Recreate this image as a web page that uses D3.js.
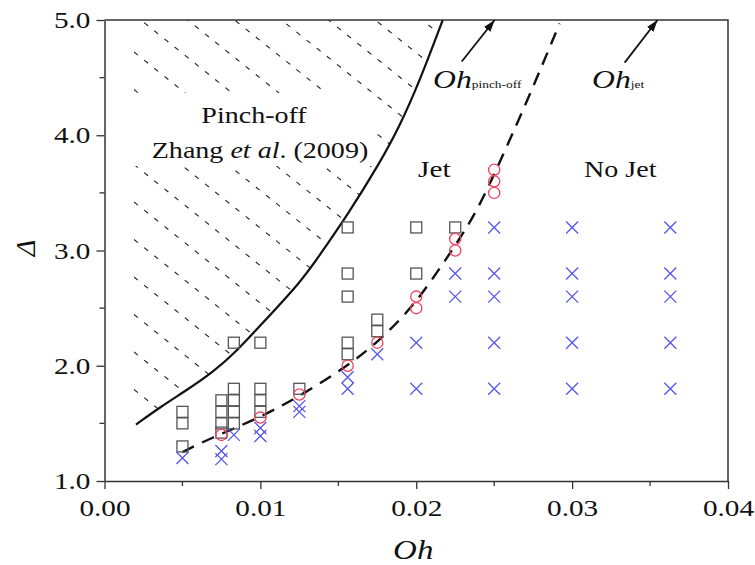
<!DOCTYPE html>
<html>
<head>
<meta charset="utf-8">
<script src="https://cdn.jsdelivr.net/npm/d3@7"></script>
<style>
body { margin: 0; background: #fff; }
text { font-family: "Liberation Serif", "Times New Roman", serif; fill: #111; }
</style>
</head>
<body>
<div id="chart"></div>
<script>
// axis ticks
const ohTicks = [0, 0.01, 0.02, 0.03, 0.04]
const ohMinor = [0.005, 0.015, 0.025, 0.035]
const deltaTicks = [1, 2, 3, 4, 5]
const deltaMinor = [1.5, 2.5, 3.5, 4.5]

// pinch-off boundary, Zhang et al. (2009)  [Oh, Delta]
const pinchOff = [
  [0.00202, 1.49], [0.00356, 1.64], [0.00529, 1.79], [0.00702, 1.95],
  [0.00849, 2.13], [0.00965, 2.30], [0.0127, 2.74], [0.0140, 3.00],
  [0.01555, 3.30], [0.01766, 3.76], [0.01894, 4.08], [0.02022, 4.47],
  [0.0217, 5.0]
]

// Oh_jet boundary
const ohJet = [
  [0.0050, 1.25], [0.0066, 1.36], [0.0100, 1.55], [0.0127, 1.75],
  [0.0156, 2.0], [0.0175, 2.2], [0.0198, 2.51], [0.0219, 2.92],
  [0.0238, 3.31], [0.0252, 3.72], [0.0271, 4.29], [0.0292, 4.97]
]

// pinch-off cases (squares)
const squares = [
  [0.005, 1.6], [0.005, 1.5], [0.005, 1.3],
  [0.0075, 1.7], [0.0075, 1.6], [0.0075, 1.5], [0.0075, 1.42],
  [0.0083, 2.2], [0.0083, 1.8], [0.0083, 1.7], [0.0083, 1.6], [0.0083, 1.5],
  [0.01, 2.2], [0.01, 1.8], [0.01, 1.7], [0.01, 1.6],
  [0.0125, 1.8],
  [0.0156, 3.2], [0.0156, 2.8], [0.0156, 2.6], [0.0156, 2.2], [0.0156, 2.1],
  [0.0175, 2.4], [0.0175, 2.3],
  [0.02, 3.2], [0.02, 2.8],
  [0.0225, 3.2]
]

// jet cases (circles)
const circles = [
  [0.0075, 1.4], [0.01, 1.55], [0.0125, 1.75], [0.0156, 2.0], [0.0175, 2.2],
  [0.02, 2.6], [0.02, 2.5], [0.0225, 3.1], [0.0225, 3.0],
  [0.025, 3.7], [0.025, 3.6], [0.025, 3.5]
]

// no jet cases (crosses)
const crosses = [
  [0.005, 1.2], [0.0075, 1.26], [0.0075, 1.19], [0.0083, 1.4],
  [0.01, 1.46], [0.01, 1.39], [0.0125, 1.65], [0.0125, 1.6],
  [0.0156, 1.9], [0.0156, 1.8], [0.0175, 2.1], [0.02, 2.2], [0.02, 1.8],
  [0.0225, 2.8], [0.0225, 2.6],
  [0.025, 3.2], [0.025, 2.8], [0.025, 2.6], [0.025, 2.2], [0.025, 1.8],
  [0.03, 3.2], [0.03, 2.8], [0.03, 2.6], [0.03, 2.2], [0.03, 1.8],
  [0.0363, 3.2], [0.0363, 2.8], [0.0363, 2.6], [0.0363, 2.2], [0.0363, 1.8]
]

const W = 755, H = 565
const margin = {top: 20, right: 27, bottom: 84, left: 104.5}
const SX = 1.22 // text in the source figure is stretched sideways

let svg = d3.select('#chart').append('svg')
  .attr('width', W)
  .attr('height', H)

let x = d3.scaleLinear().domain([0, 0.04]).range([margin.left, W - margin.right])
let y = d3.scaleLinear().domain([1, 5]).range([H - margin.bottom, margin.top])

let line = d3.line()
  .x(d => x(d[0]))
  .y(d => y(d[1]))
  .curve(d3.curveBasis)

// hatched pinch-off region
let x0 = x(pinchOff[0][0]) - 2
svg.append('clipPath').attr('id', 'hatchClip')
  .append('path')
  .attr('d', line(pinchOff) + `L${x0},${y(5)}L${x0},${y(pinchOff[0][1])}Z`)

let hatch = svg.append('g').attr('clip-path', 'url(#hatchClip)')
for (let k = -14; k <= 11; k++) {
  let y0 = 52 + 37.5 * k
  hatch.append('line')
    .attr('x1', x0).attr('y1', y0)
    .attr('x2', x0 + 700).attr('y2', y0 + 0.8 * 700)
    .attr('stroke', '#222')
    .attr('stroke-width', 1.1)
    .attr('stroke-dasharray', '5,8')
}
hatch.append('rect')
  .attr('x', x0).attr('y', 93)
  .attr('width', 242).attr('height', 73)
  .attr('fill', '#fff')

// boundaries
svg.append('path')
  .attr('d', line(pinchOff))
  .attr('fill', 'none')
  .attr('stroke', '#111')
  .attr('stroke-width', 2.2)

svg.append('path')
  .attr('d', line(ohJet))
  .attr('fill', 'none')
  .attr('stroke', '#111')
  .attr('stroke-width', 2.4)
  .attr('stroke-dasharray', '13,9')

// markers
svg.append('g').selectAll('rect')
  .data(squares)
  .enter()
  .append('rect')
  .attr('x', d => x(d[0]) - 5.5)
  .attr('y', d => y(d[1]) - 5.5)
  .attr('width', 11)
  .attr('height', 11)
  .attr('fill', 'none')
  .attr('stroke', '#555')
  .attr('stroke-width', 1.3)

svg.append('g').selectAll('circle')
  .data(circles)
  .enter()
  .append('circle')
  .attr('cx', d => x(d[0]))
  .attr('cy', d => y(d[1]))
  .attr('r', 5.6)
  .attr('fill', 'none')
  .attr('stroke', '#f2405c')
  .attr('stroke-width', 1.3)

svg.append('g').selectAll('path')
  .data(crosses)
  .enter()
  .append('path')
  .attr('d', d => {
    let cx = x(d[0]), cy = y(d[1]), s = 6
    return `M${cx - s},${cy - s}L${cx + s},${cy + s}M${cx - s},${cy + s}L${cx + s},${cy - s}`
  })
  .attr('stroke', '#5656f0')
  .attr('stroke-width', 1.3)

// frame
svg.append('path')
  .attr('d', `M${x(0)},${y(5)}H${x(0.04)}V${y(1)}`)
  .attr('fill', 'none')
  .attr('stroke', '#333')
  .attr('stroke-width', 1.5)

let xAxis = svg.append('g')
  .attr('transform', `translate(0,${y(1)})`)
  .call(d3.axisBottom(x).tickValues(ohTicks).tickFormat(d3.format('.2f')).tickSize(8).tickPadding(10).tickSizeOuter(0))
xAxis.selectAll('.minor').data(ohMinor).enter()
  .append('line').attr('class', 'minor')
  .attr('x1', d => x(d)).attr('x2', d => x(d))
  .attr('y1', 0).attr('y2', 5)
  .attr('stroke', '#333').attr('stroke-width', 1.3)

let yAxis = svg.append('g')
  .attr('transform', `translate(${x(0)},0)`)
  .call(d3.axisLeft(y).tickValues(deltaTicks).tickFormat(d3.format('.1f')).tickSize(8).tickSizeOuter(0))
yAxis.selectAll('.minor').data(deltaMinor).enter()
  .append('line').attr('class', 'minor')
  .attr('y1', d => y(d)).attr('y2', d => y(d))
  .attr('x1', 0).attr('x2', -5)
  .attr('stroke', '#333').attr('stroke-width', 1.3)

svg.selectAll('.domain').attr('stroke', '#333').attr('stroke-width', 1.5)
svg.selectAll('.tick line').attr('stroke', '#333').attr('stroke-width', 1.3)
svg.selectAll('.tick text')
  .attr('font-size', 24)
  .attr('fill', '#111')
xAxis.selectAll('.tick text').attr('transform', `scale(${SX},1)`)
yAxis.selectAll('.tick text').attr('x', -14 / SX).attr('transform', `scale(${SX},1)`)

// axis titles
svg.append('text')
  .attr('transform', `translate(${x(0.02) - 3},559) scale(${SX},1)`)
  .attr('text-anchor', 'middle')
  .attr('font-size', 27)
  .attr('font-style', 'italic')
  .text('Oh')

svg.append('text')
  .attr('transform', `translate(35,248) rotate(-90)`)
  .attr('text-anchor', 'middle')
  .attr('font-size', 28)
  .attr('font-style', 'italic')
  .text('Δ')

// region labels
function label(px, py, anchor, size) {
  return svg.append('text')
    .attr('transform', `translate(${px},${py}) scale(${SX},1)`)
    .attr('text-anchor', anchor)
    .attr('font-size', size)
}

label(254, 123, 'middle', 23).text('Pinch-off')
let zh = label(260, 158, 'middle', 23)
zh.append('tspan').text('Zhang ')
zh.append('tspan').attr('font-style', 'italic').text('et al')
zh.append('tspan').text('. (2009)')

label(418, 177, 'start', 24).text('Jet')
label(584, 177, 'start', 23).text('No Jet')

let lp = label(433, 88, 'start', 26)
lp.append('tspan').attr('font-style', 'italic').text('Oh')
lp.append('tspan').attr('font-size', 11).text('pinch-off')

let lj = label(592, 88, 'start', 26)
lj.append('tspan').attr('font-style', 'italic').text('Oh')
lj.append('tspan').attr('font-size', 11).text('jet')

// arrows
const arrows = [
  [[0.02292, 4.64], [0.02503, 5.0]],
  [[0.03337, 4.63], [0.03548, 5.0]]
]
svg.append('defs').append('marker')
  .attr('id', 'head')
  .attr('viewBox', '0 0 12 8')
  .attr('refX', 12).attr('refY', 4)
  .attr('markerWidth', 12).attr('markerHeight', 8)
  .attr('markerUnits', 'userSpaceOnUse')
  .attr('orient', 'auto')
  .append('path')
  .attr('d', 'M0,0L12,4L0,8Z')
  .attr('fill', '#111')

svg.append('g').selectAll('line')
  .data(arrows)
  .enter()
  .append('line')
  .attr('x1', d => x(d[0][0])).attr('y1', d => y(d[0][1]))
  .attr('x2', d => x(d[1][0])).attr('y2', d => y(d[1][1]))
  .attr('stroke', '#111')
  .attr('stroke-width', 1.8)
  .attr('marker-end', 'url(#head)')
</script>
</body>
</html>
